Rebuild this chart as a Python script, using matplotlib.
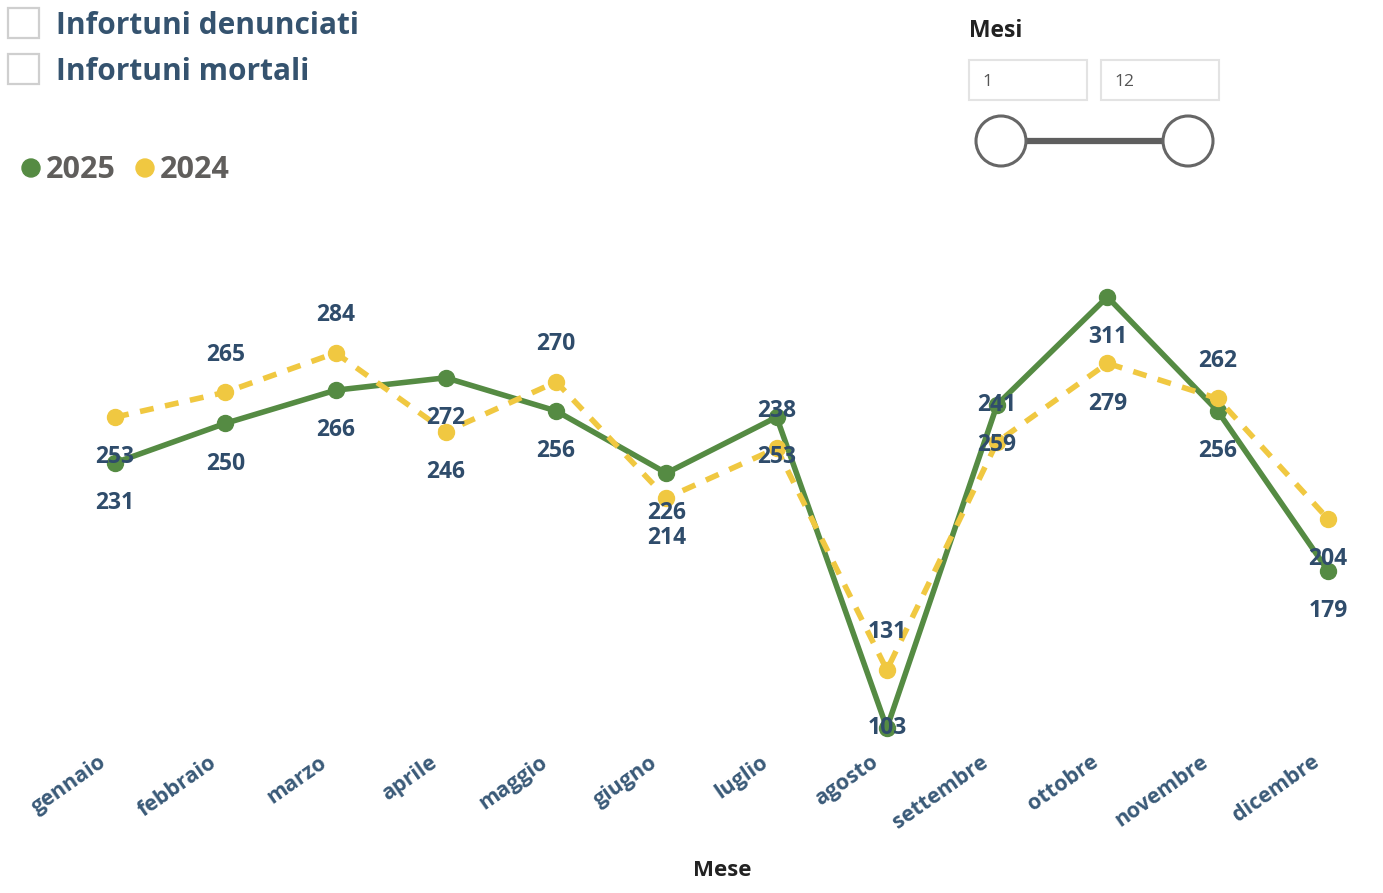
import matplotlib
matplotlib.use("Agg")
import matplotlib.pyplot as plt
import matplotlib.transforms as mtransforms
from matplotlib.patches import Rectangle, Circle

plt.rcParams['font.family'] = ['Open Sans', 'DejaVu Sans']

# dati mensili
mesi = ['gennaio', 'febbraio', 'marzo', 'aprile', 'maggio', 'giugno',
        'luglio', 'agosto', 'settembre', 'ottobre', 'novembre', 'dicembre']
val_2025 = [231, 250, 266, 272, 256, 226, 253, 103, 259, 311, 256, 179]
val_2024 = [253, 265, 284, 246, 270, 214, 238, 131, 241, 279, 262, 204]
# posizione etichette 2024: 1 sopra, -1 sotto
pos_2024 = [-1, 1, 1, -1, 1, -1, 1, 1, 1, -1, 1, -1]

VERDE = '#558B43'
GIALLO = '#F0C841'
BLU_LAB = '#2F4C6B'
BLU_TICK = '#3A5A78'
GRIGIO = '#605E5C'

W, H = 1383, 893
fig = plt.figure(figsize=(W / 100, H / 100), dpi=100)


def px_rect(l, t, r, b):
    return [l / W, 1 - b / H, (r - l) / W, (b - t) / H]


ax = fig.add_axes(px_rect(60, 230, 1383, 745))
x = list(range(len(mesi)))

ax.plot(x, val_2025, color=VERDE, lw=4, marker='o', ms=11.5, zorder=3,
        solid_capstyle='round')
ax.plot(x, val_2024, color=GIALLO, lw=4, marker='o', ms=11.5, zorder=4,
        linestyle=(0, (2.5, 2.1)))

ax.set_xlim(-0.5, 11.5)
ax.set_ylim(94.8, 343.3)

# etichette dati
for i, v in enumerate(val_2025):
    dy = -29 if v > 120 else 0
    ax.annotate(str(v), (i, v), xytext=(0, dy), textcoords='offset points',
                ha='center', va='center', fontsize=16.5, fontweight='bold',
                color=BLU_LAB, zorder=6)
for i, v in enumerate(val_2024):
    dy = 27 if pos_2024[i] > 0 else -29
    ax.annotate(str(v), (i, v), xytext=(0, dy), textcoords='offset points',
                ha='center', va='center', fontsize=16.5, fontweight='bold',
                color=BLU_LAB, zorder=6)

for s in ax.spines.values():
    s.set_visible(False)
ax.set_yticks([])
ax.set_xticks(x)
ax.set_xticklabels(mesi, rotation=35, ha='right', va='center',
                   rotation_mode='anchor', fontsize=15.5, fontweight='bold',
                   color=BLU_TICK)
ax.tick_params(axis='x', length=0, pad=11)
shift = mtransforms.ScaledTranslation(-0.11, 0, fig.dpi_scale_trans)
for lab in ax.get_xticklabels():
    lab.set_transform(lab.get_transform() + shift)

ax.set_xlabel('Mese', fontsize=16, fontweight='bold', color='#222222',
              labelpad=0)
ax.xaxis.set_label_coords((722 - 60) / 1323, -(860 - 745) / 515,
                          transform=ax.transAxes)

# livello sovrapposto in pixel per filtri e legenda
ov = fig.add_axes([0, 0, 1, 1], zorder=-1)
ov.set_xlim(0, W)
ov.set_ylim(H, 0)
ov.axis('off')

for top, testo in [(8, 'Infortuni denunciati'), (54, 'Infortuni mortali')]:
    ov.add_patch(Rectangle((8, top), 31, 30, fill=False, ec='#CFCFCF', lw=1.6))
    ov.text(56, top + 18, testo, fontsize=21.5, fontweight='bold',
            color='#35536F', va='center', ha='left')

ov.add_patch(Circle((31, 168), 9, color=VERDE))
ov.text(46, 170, '2025', fontsize=22, fontweight='bold', color=GRIGIO,
        va='center', ha='left')
ov.add_patch(Circle((145, 168), 9, color=GIALLO))
ov.text(160, 170, '2024', fontsize=22, fontweight='bold', color=GRIGIO,
        va='center', ha='left')

# filtro "Mesi"
ov.text(969, 31, 'Mesi', fontsize=16.5, fontweight='bold', color='#222222',
        va='center', ha='left')
for l, r, t in [(969, 1087, '1'), (1101, 1219, '12')]:
    ov.add_patch(Rectangle((l, 60), r - l, 40, fill=False, ec='#E3E3E3', lw=1.5))
    ov.text(l + 13, 82, t, fontsize=12.5, color='#555555', va='center', ha='left')
ov.plot([1001, 1188], [141, 141], color='#5E5E5E', lw=4.5, solid_capstyle='butt')
for cx in (1001, 1188):
    ov.add_patch(Circle((cx, 141), 25, fc='white', ec='#666666', lw=2.2,
                        zorder=3))

fig.savefig('out.png', dpi=100, facecolor='white')
